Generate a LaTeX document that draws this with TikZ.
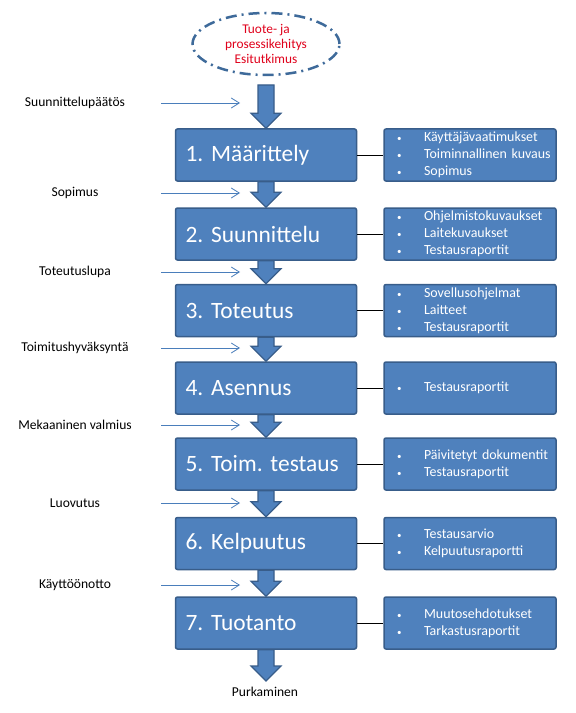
\documentclass[tikz,border=0pt]{standalone}
\usepackage{fontspec}
\setmainfont{Carlito}
\usetikzlibrary{arrows.meta,shapes.geometric,calc}
\definecolor{boxfill}{HTML}{4F81BD}
\definecolor{boxline}{HTML}{385D8A}
\definecolor{thinarrow}{HTML}{4A7EBB}
\definecolor{redtext}{HTML}{E0001B}
\definecolor{ellline}{HTML}{3E6A9A}
\frenchspacing
\newcommand\bul{\makebox[27bp][l]{\fontsize{9}{9}\selectfont\textbullet}}
\newcommand\blockarrow[2]{\path[bigarrow] let \p1=(#1), \p2=(#2) in
  (\x1-8bp,\y1) -- (\x1+8bp,\y1) -- (\x1+8bp,\y2+15bp) -- (\x1+15bp,\y2+15bp) --
  (\x1,\y2) -- (\x1-15bp,\y2+15bp) -- (\x1-8bp,\y2+15bp) -- cycle;}
\tikzset{
  mainbox/.style={draw=boxline, line width=1.5bp, fill=boxfill, rounded corners=2bp,
    minimum width=181bp, minimum height=52bp, inner xsep=0bp, inner ysep=0bp, text width=181bp,
    align=left, text=white, font=\fontsize{23.5}{27}\selectfont\frenchspacing},
  sidebox/.style={draw=boxline, line width=1.5bp, fill=boxfill, rounded corners=2bp,
    minimum width=172bp, minimum height=52bp, inner xsep=0bp, inner ysep=0bp, text width=172bp,
    align=left, text=white, font=\fontsize{14}{17}\selectfont\frenchspacing},
  bigarrow/.style={fill=boxfill, draw=boxline, line width=1.2bp, line join=miter},
  thinarr/.style={draw=thinarrow, line width=0.8bp, -{Straight Barb[length=8bp,width=10bp]}},
  link/.style={draw=black, line width=0.9bp},
  lbl/.style={font=\fontsize{13.6}{16}\selectfont, text=black, inner sep=0bp},
}
\begin{document}
\begin{tikzpicture}[x=1bp,y=-1bp]
\useasboundingbox[fill=white] (0,0) rectangle (576,713);

\node[ellipse, draw=ellline, line width=2.5bp, dash pattern=on 11bp off 5bp on 2bp off 5bp,
  minimum width=147bp, minimum height=62bp, inner sep=0bp, align=center, text=redtext,
  font=\fontsize{13.4}{15.5}\selectfont] (start) at (266,44) {Tuote- ja\\prosessikehitys\\Esitutkimus};

\node[mainbox] (m1) at (266,155) {\hspace*{10bp}1. Määrittely};
\node[mainbox] (m2) at (266,234) {\hspace*{10bp}2. Suunnittelu};
\node[mainbox] (m3) at (266,310.5) {\hspace*{10bp}3. Toteutus};
\node[mainbox] (m4) at (266,388) {\hspace*{10bp}4. Asennus};
\node[mainbox] (m5) at (266,464) {\hspace*{10bp}5. Toim. testaus};
\node[mainbox] (m6) at (266,543.5) {\hspace*{10bp}6. Kelpuutus};
\node[mainbox] (m7) at (266,623) {\hspace*{10bp}7. Tuotanto};

\node[sidebox] (s1) at (470,155) {\hspace*{13bp}\bul Käyttäjävaatimukset\\\hspace*{13bp}\bul Toiminnallinen kuvaus\\\hspace*{13bp}\bul Sopimus};
\node[sidebox] (s2) at (470,234) {\hspace*{13bp}\bul Ohjelmistokuvaukset\\\hspace*{13bp}\bul Laitekuvaukset\\\hspace*{13bp}\bul Testausraportit};
\node[sidebox] (s3) at (470,310.5) {\hspace*{13bp}\bul Sovellusohjelmat\\\hspace*{13bp}\bul Laitteet\\\hspace*{13bp}\bul Testausraportit};
\node[sidebox] (s4) at (470,388) {\hspace*{13bp}\bul Testausraportit};
\node[sidebox] (s5) at (470,464) {\hspace*{13bp}\bul Päivitetyt dokumentit\\\hspace*{13bp}\bul Testausraportit};
\node[sidebox] (s6) at (470,543.5) {\hspace*{13bp}\bul Testausarvio\\\hspace*{13bp}\bul Kelpuutusraportti};
\node[sidebox] (s7) at (470,623) {\hspace*{13bp}\bul Muutosehdotukset\\\hspace*{13bp}\bul Tarkastusraportit};

\foreach \i in {1,...,7} {\draw[link] (m\i.east) -- (s\i.west);}

\coordinate (a0) at (266,85);
\coordinate (aend) at (266,681);
\blockarrow{a0}{m1.north}
\blockarrow{m1.south}{m2.north}
\blockarrow{m2.south}{m3.north}
\blockarrow{m3.south}{m4.north}
\blockarrow{m4.south}{m5.north}
\blockarrow{m5.south}{m6.north}
\blockarrow{m6.south}{m7.north}
\blockarrow{m7.south}{aend}

\node[lbl] (end) at (265,692) {Purkaminen};

\node[lbl] (l1) at (75,103) {Suunnittelupäätös};
\node[lbl] (l2) at (75,193) {Sopimus};
\node[lbl] (l3) at (75,272) {Toteutuslupa};
\node[lbl] (l4) at (75,348) {Toimitushyväksyntä};
\node[lbl] (l5) at (75,425) {Mekaaninen valmius};
\node[lbl] (l6) at (75,503) {Luovutus};
\node[lbl] (l7) at (75,585) {Käyttöönotto};
\foreach \i/\y in {1/103,2/193,3/272,4/348,5/425,6/503,7/585} {
  \coordinate (t\i s) at (161,\y);
  \coordinate (t\i e) at (240,\y);
  \draw[thinarr] (t\i s) -- (t\i e);
}
\end{tikzpicture}
\end{document}
